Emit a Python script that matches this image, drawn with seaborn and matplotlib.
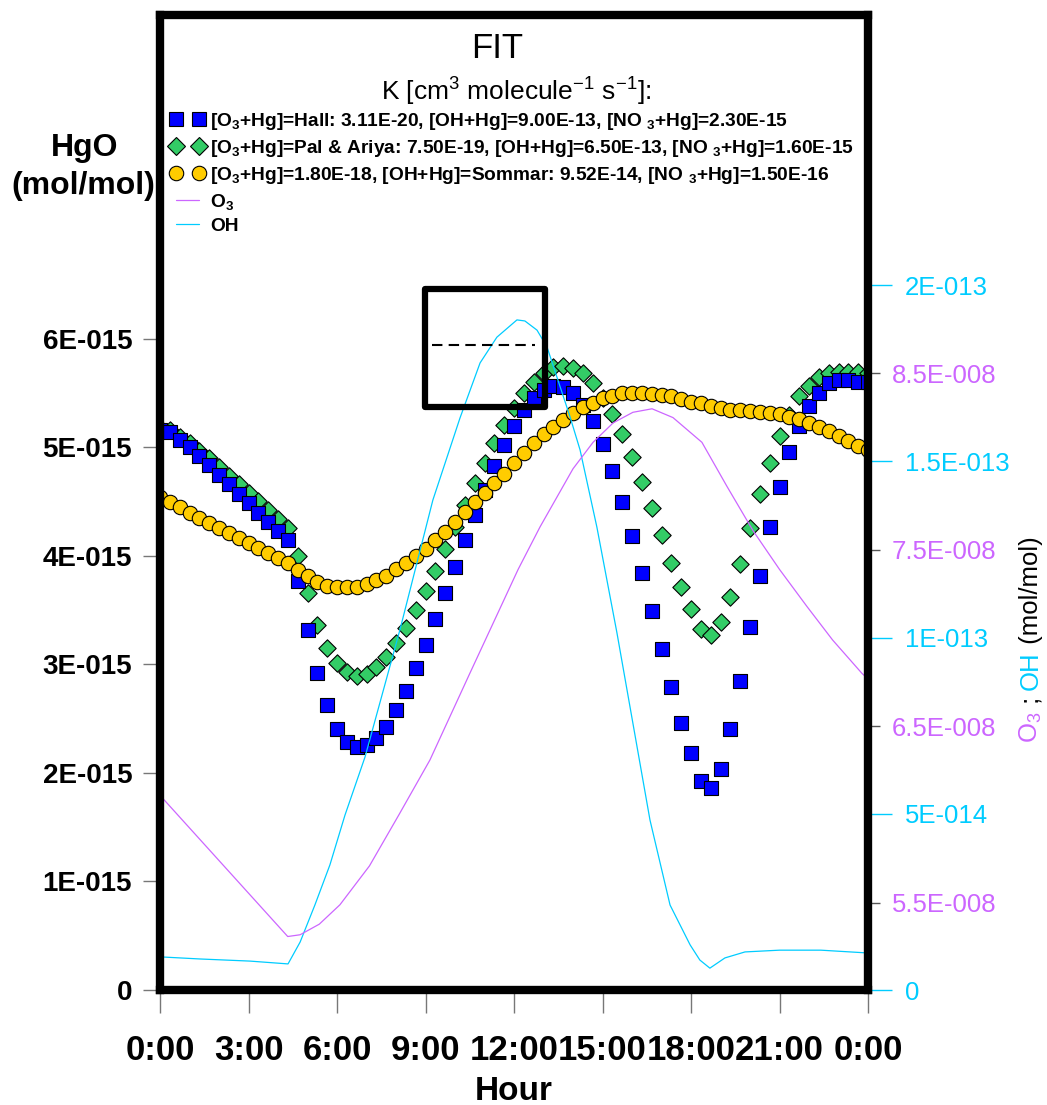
import numpy as np
import pandas as pd
import matplotlib
matplotlib.use("Agg")
import matplotlib.pyplot as plt
import seaborn as sns
from matplotlib.lines import Line2D
from matplotlib.patches import Rectangle

sns.set_style("white")
plt.rcParams['font.family'] = ['Liberation Sans', 'DejaVu Sans']
plt.rcParams['mathtext.default'] = 'regular'
plt.rcParams['text.color'] = 'black'
plt.rcParams['xtick.labelcolor'] = 'black'
plt.rcParams['ytick.labelcolor'] = 'black'

# ---------------- data ----------------
minutes = list(range(0, 1441, 20))  # sampling times (every 20 min)

hall = [5.16, 5.14, 5.07, 5.00, 4.92, 4.84, 4.75, 4.66, 4.57, 4.49, 4.40, 4.31, 4.23, 4.15,
        3.77, 3.32, 2.92, 2.63, 2.41, 2.29, 2.24, 2.26, 2.32, 2.42, 2.58, 2.76, 2.97, 3.18,
        3.42, 3.66, 3.90, 4.15, 4.38, 4.61, 4.83, 5.02, 5.20, 5.35, 5.46, 5.53, 5.57, 5.56,
        5.50, 5.39, 5.24, 5.03, 4.78, 4.50, 4.18, 3.84, 3.49, 3.14, 2.79, 2.46, 2.18, 1.93,
        1.86, 2.04, 2.41, 2.85, 3.35, 3.82, 4.27, 4.64, 4.96, 5.20, 5.38, 5.50, 5.59, 5.62,
        5.62, 5.60, 5.60]
pal_ariya = [5.18, 5.16, 5.10, 5.04, 4.97, 4.90, 4.82, 4.74, 4.66, 4.58, 4.51, 4.42, 4.34, 4.26,
             4.00, 3.66, 3.36, 3.15, 3.01, 2.93, 2.89, 2.91, 2.98, 3.07, 3.20, 3.34, 3.50, 3.68,
             3.86, 4.06, 4.27, 4.47, 4.67, 4.86, 5.04, 5.21, 5.36, 5.50, 5.60, 5.69, 5.74, 5.75,
             5.73, 5.69, 5.59, 5.46, 5.31, 5.12, 4.91, 4.68, 4.44, 4.19, 3.94, 3.71, 3.51, 3.33,
             3.27, 3.39, 3.62, 3.93, 4.26, 4.57, 4.86, 5.11, 5.30, 5.47, 5.57, 5.65, 5.69, 5.70,
             5.70, 5.70, 5.69]
sommar = [4.54, 4.50, 4.45, 4.40, 4.35, 4.30, 4.26, 4.21, 4.17, 4.12, 4.07, 4.03, 3.98, 3.94,
          3.87, 3.82, 3.76, 3.72, 3.71, 3.71, 3.71, 3.74, 3.78, 3.82, 3.88, 3.94, 4.00, 4.06,
          4.15, 4.22, 4.31, 4.41, 4.50, 4.58, 4.67, 4.76, 4.86, 4.95, 5.04, 5.12, 5.19, 5.25,
          5.32, 5.37, 5.41, 5.46, 5.47, 5.50, 5.50, 5.50, 5.49, 5.48, 5.47, 5.45, 5.42, 5.41,
          5.38, 5.36, 5.35, 5.35, 5.34, 5.33, 5.32, 5.31, 5.28, 5.26, 5.23, 5.19, 5.15, 5.11,
          5.06, 5.01, 4.98]  # HgO in 1E-15 mol/mol

o3_hours = [0, 4.33, 4.75, 5.4, 6.1, 7.1, 8.1, 9.15, 10.5, 12.14, 12.88, 14.0, 14.68, 15.36,
            16.03, 16.68, 17.39, 18.37, 19.22, 20.1, 21.0, 21.93, 22.8, 23.8, 24.0]
o3_vals = [6.11, 5.31, 5.32, 5.38, 5.49, 5.71, 6.00, 6.31, 6.80, 7.39, 7.63, 7.96, 8.11, 8.22,
           8.28, 8.30, 8.25, 8.11, 7.86, 7.61, 7.39, 7.18, 6.99, 6.80, 6.77]  # 1E-8 mol/mol

oh_hours = [0, 1.36, 3.05, 4.34, 4.75, 5.25, 5.76, 6.27, 6.95, 8.14, 9.25, 10.17, 10.85, 11.42,
            12.1, 12.37, 12.78, 13.12, 13.9, 14.24, 14.81, 15.49, 16.03, 16.61, 17.29, 17.97,
            18.3, 18.64, 19.15, 19.83, 21.0, 22.4, 24.0]
oh_vals = [0.094, 0.088, 0.082, 0.074, 0.136, 0.241, 0.355, 0.496, 0.661, 1.024, 1.39, 1.623,
           1.779, 1.852, 1.901, 1.898, 1.872, 1.824, 1.626, 1.532, 1.313, 1.013, 0.757, 0.482,
           0.241, 0.128, 0.085, 0.062, 0.091, 0.108, 0.113, 0.113, 0.105]  # 1E-13 mol/mol

x_ticks = [0, 3, 6, 9, 12, 15, 18, 21, 24]
x_labels = ['0:00', '3:00', '6:00', '9:00', '12:00', '15:00', '18:00', '21:00', '0:00']
hgo_ticks = [0, 1, 2, 3, 4, 5, 6]
hgo_labels = ['0', '1E-015', '2E-015', '3E-015', '4E-015', '5E-015', '6E-015']
oh_ticks = [0, 0.5, 1.0, 1.5, 2.0]
oh_labels = ['0', '5E-014', '1E-013', '1.5E-013', '2E-013']
o3_ticks = [5.5, 6.5, 7.5, 8.5]
o3_labels = ['5.5E-008', '6.5E-008', '7.5E-008', '8.5E-008']

legend_labels = [
    '[O$_3$+Hg]=Hall: 3.11E-20, [OH+Hg]=9.00E-13, [NO $_3$+Hg]=2.30E-15',
    '[O$_3$+Hg]=Pal & Ariya: 7.50E-19, [OH+Hg]=6.50E-13, [NO $_3$+Hg]=1.60E-15',
    '[O$_3$+Hg]=1.80E-18, [OH+Hg]=Sommar: 9.52E-14, [NO $_3$+Hg]=1.50E-16',
    'O$_3$', 'OH']

# ---------------- styling ----------------
BLUE = '#0000FF'
GREEN = '#33CC66'
YELLOW = '#FFCC00'
VIOLET = '#CC66FF'
CYAN = '#00CCFF'
TICKGRAY = '#777777'

hours = np.array(minutes) / 60.0
df = pd.DataFrame({'hour': hours,
                   'hall': np.array(hall) * 1e-15,
                   'pal': np.array(pal_ariya) * 1e-15,
                   'sommar': np.array(sommar) * 1e-15})
df_o3 = pd.DataFrame({'hour': o3_hours, 'o3': np.array(o3_vals) * 1e-8})
df_oh = pd.DataFrame({'hour': oh_hours, 'oh': np.array(oh_vals) * 1e-13})

W, H = 1047, 1105
fig = plt.figure(figsize=(W / 100, H / 100), dpi=100)
ax = fig.add_axes([160 / W, 1 - 990 / H, (868 - 160) / W, (990 - 15) / H])
ax.set_facecolor('white')

sns.scatterplot(data=df, x='hour', y='pal', marker='D', s=78, color=GREEN,
                edgecolor='black', linewidth=0.8, ax=ax, zorder=2)
sns.scatterplot(data=df, x='hour', y='hall', marker='s', s=92, color=BLUE,
                edgecolor='black', linewidth=0.8, ax=ax, zorder=3)
sns.scatterplot(data=df, x='hour', y='sommar', marker='o', s=108, color=YELLOW,
                edgecolor='black', linewidth=0.8, ax=ax, zorder=4)

ax.set_xlim(0, 24)
ax.set_ylim(0, 8.986e-15)
ax.set_xlabel('')
ax.set_ylabel('')
ax.set_xticks([float(t) for t in x_ticks])
ax.set_xticklabels(x_labels, fontweight='bold', fontsize=25, color='black')
ax.set_yticks([t * 1e-15 for t in hgo_ticks])
ax.set_yticklabels(hgo_labels, fontweight='bold', fontsize=20, color='black')
ax.tick_params(axis='x', bottom=True, direction='out', length=16.5, width=1,
               color=TICKGRAY, pad=15)
ax.tick_params(axis='y', left=True, right=False, direction='out', length=12, width=1,
               color=TICKGRAY, pad=8)
for s in ax.spines.values():
    s.set_visible(False)

# OH axis
ax2 = ax.twinx()
sns.lineplot(data=df_oh, x='hour', y='oh', color=CYAN, linewidth=0.9, ax=ax2,
             sort=False, estimator=None)
ax2.set_ylim(0, 2.766e-13)
ax2.set_yticks([t * 1e-13 for t in oh_ticks])
ax2.set_yticklabels(oh_labels, fontsize=18.5)
ax2.tick_params(axis='y', right=True, left=False, direction='out', length=17.3, width=1,
                color=CYAN, labelcolor=CYAN, pad=9.4)
ax2.set_ylabel('')
for s in ax2.spines.values():
    s.set_visible(False)

# O3 axis
ax3 = ax.twinx()
sns.lineplot(data=df_o3, x='hour', y='o3', color=VIOLET, linewidth=0.9, ax=ax3,
             sort=False, estimator=None)
ax3.set_ylim(5.007e-8, 10.531e-8)
ax3.set_yticks([t * 1e-8 for t in o3_ticks])
ax3.set_yticklabels(o3_labels, fontsize=18.5)
ax3.tick_params(axis='y', right=True, left=False, direction='out', length=8.6, width=1,
                color='#555555', labelcolor=VIOLET, pad=8.6)
ax3.set_ylabel('')
ax3.set_xlim(0, 24)
for s in ax3.spines.values():
    s.set_visible(True)
    s.set_color('black')
    s.set_linewidth(6)
    s.set_capstyle('projecting')

# legend
handles = [
    Line2D([], [], ls='none', marker='s', ms=9.6, mfc=BLUE, mec='black', mew=0.8),
    Line2D([], [], ls='none', marker='D', ms=8.8, mfc=GREEN, mec='black', mew=0.8),
    Line2D([], [], ls='none', marker='o', ms=10.4, mfc=YELLOW, mec='black', mew=0.8),
    Line2D([], [], color=VIOLET, lw=0.9),
    Line2D([], [], color=CYAN, lw=0.9),
]
leg = ax3.legend(handles, legend_labels, loc='upper left', bbox_to_anchor=(170 / W, 1 - 111 / H),
                 bbox_transform=fig.transFigure, frameon=False, numpoints=2, handlelength=1.8,
                 handletextpad=0.3, labelspacing=0.31, borderpad=0, borderaxespad=0,
                 prop={'weight': 'bold', 'size': 13.8})
for t in leg.get_texts():
    t.set_color('black')

# titles / labels
fig.text(497 / W, 1 - 48 / H, 'FIT', ha='center', va='center', fontsize=25)
fig.text(516 / W, 1 - 92 / H, 'K [cm$^3$ molecule$^{-1}$ s$^{-1}$]:', ha='center',
         va='center', fontsize=19)
fig.text(85 / W, 1 - 148 / H, 'HgO', ha='center', va='center', fontsize=23, fontweight='bold')
fig.text(83 / W, 1 - 186 / H, '(mol/mol)', ha='center', va='center', fontsize=23,
         fontweight='bold')
fig.text(514 / W, 1 - 1091 / H, 'Hour', ha='center', va='center', fontsize=24,
         fontweight='bold')

# right multi-colour label, chained bottom to top
fig.canvas.draw()
renderer = fig.canvas.get_renderer()
y = 1 - 743 / H
for txt, col in [('O$_3$', VIOLET), (' ; ', 'black'), ('OH', CYAN), (' (mol/mol)', 'black')]:
    t = fig.text(1031 / W, y, txt, rotation=90, ha='center', va='bottom', color=col,
                 fontsize=18.5)
    bb = t.get_window_extent(renderer)
    y = bb.y1 / fig.bbox.height

# the boxed marker in the middle
fig.add_artist(Rectangle((425 / W, 1 - 407 / H), 120 / W, 118 / H, transform=fig.transFigure,
                         fill=False, lw=4.5, ec='black', joinstyle='round'))
fig.add_artist(Line2D([432 / W, 535 / W], [1 - 345 / H, 1 - 345 / H], transform=fig.transFigure,
                      color='black', lw=1.5, ls=(0, (5, 3))))

fig.savefig('out.png', dpi=100)
